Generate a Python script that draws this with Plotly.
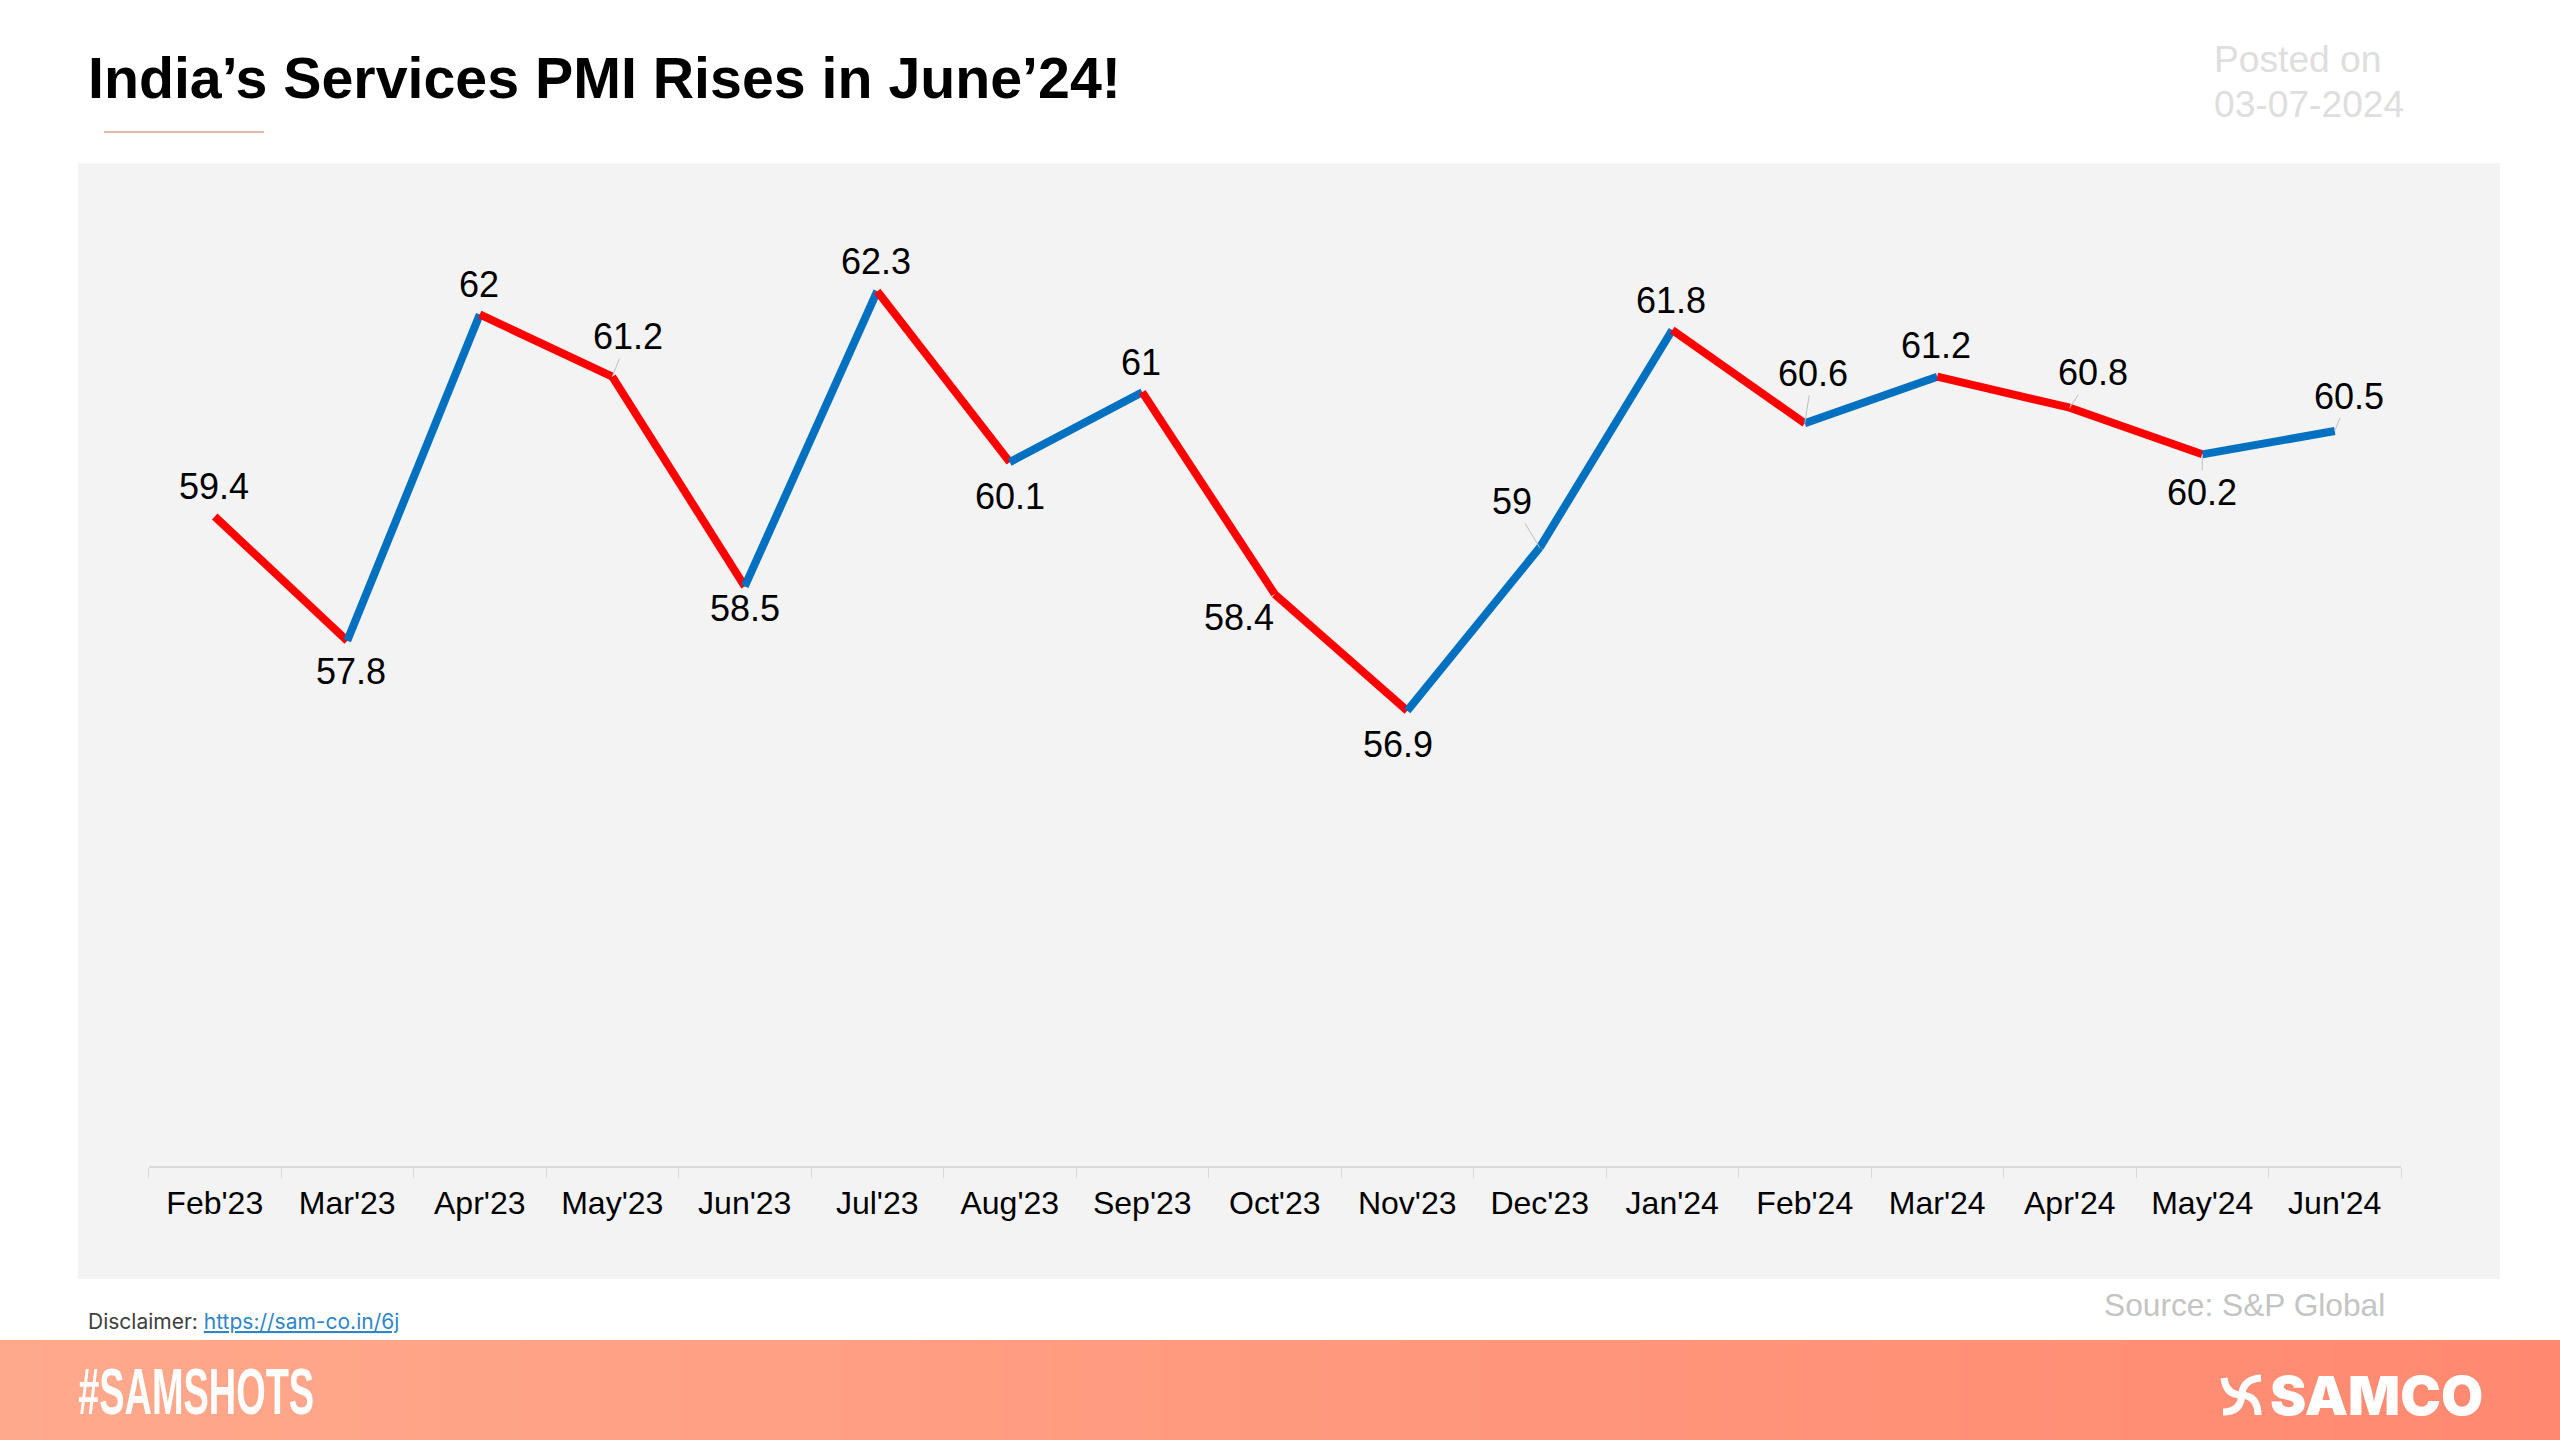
import plotly.graph_objects as go

W, H = 2560, 1440

# Datos
meses = ["Feb'23", "Mar'23", "Apr'23", "May'23", "Jun'23", "Jul'23", "Aug'23", "Sep'23", "Oct'23",
         "Nov'23", "Dec'23", "Jan'24", "Feb'24", "Mar'24", "Apr'24", "May'24", "Jun'24"]
pmi = [59.4, 57.8, 62, 61.2, 58.5, 62.3, 60.1, 61, 58.4, 56.9, 59, 61.8, 60.6, 61.2, 60.8, 60.2, 60.5]

# Desplazamiento de cada etiqueta respecto a su punto (px) y si lleva linea guia
etiqueta_dx = [-1, 4, -1, 16, 0, -1, 0, -1, -36, -9, -28, -1, 8, -1, 23, 0, 14]
etiqueta_dy = [-30, 31, -30, -40, 22, -30, 34, -30, 23, 34, -46, -30, -50, -31, -35, 38, -35]
con_guia = [False, False, False, True, False, False, False, False, False, False,
            True, False, True, False, True, True, True]

ROJO = '#FF0000'
AZUL = '#0070C0'
FUENTE = 'Liberation Sans'


def px_x(v):
    return v / W


def px_y(v):
    return 1 - v / H


fig = go.Figure()

# Banda inferior con degradado
fig.add_trace(go.Heatmap(
    z=[[0, 1]], x=[0, 1], y=[0], xaxis='x2', yaxis='y2', zsmooth='best', showscale=False,
    colorscale=[[0, '#FFA98C'], [1, '#FF8970']], hoverinfo='skip'
))

# Un tramo por mes: rojo si baja, azul si sube
for i in range(len(pmi) - 1):
    color = ROJO if pmi[i + 1] < pmi[i] else AZUL
    fig.add_trace(go.Scatter(
        x=meses[i:i + 2], y=pmi[i:i + 2], mode='lines',
        line=dict(color=color, width=8), showlegend=False, hoverinfo='skip'
    ))

anotaciones = []
for mes, valor, dx, dy, guia in zip(meses, pmi, etiqueta_dx, etiqueta_dy, con_guia):
    anotaciones.append(dict(
        x=mes, y=valor, xref='x', yref='y', text=str(valor), showarrow=True, ax=dx, ay=dy,
        arrowhead=0, arrowwidth=1, arrowcolor='#BFBFBF' if guia else 'rgba(0,0,0,0)',
        font=dict(family=FUENTE, size=36, color='#000000')
    ))


def texto(t, x, y, size, color, bold=False, family=FUENTE, xanchor='left', weight=None):
    fuente = dict(family=family, size=size, color=color)
    if weight:
        fuente['weight'] = weight
    return dict(
        text=f'<b>{t}</b>' if bold else t, x=px_x(x), y=px_y(y), xref='paper', yref='paper',
        xanchor=xanchor, yanchor='middle', showarrow=False, font=fuente
    )


anotaciones += [
    texto("India’s Services PMI Rises in June’24!", 86, 78.5, 57.3, '#000000', bold=True),
    texto('Posted on', 2212, 58.5, 37.2, '#DEDEDE'),
    texto('03-07-2024', 2212, 103.5, 37.2, '#DEDEDE'),
    texto('Source: S&P Global', 2102, 1305, 31.7, '#C4C4C4'),
    texto('Disclaimer: <span style="color:#2E86C8"><u>https://sam-co.in/6j</u></span>',
          85.5, 1321, 21, '#404040', family='Inter'),
    texto('#SAMSHOTS', 196, 1392, 64, '#FFFFFF', bold=True, xanchor='center'),
    texto('SAMCO', 2376.5, 1395, 54, '#FFFFFF', family='Inter', xanchor='center', weight=900),
]

# Logo: cuatro brazos curvos
c = (px_x(2241.7), px_y(1395))
brazos = [((2224, 1378), (2226, 1395)), ((2261, 1378), (2243, 1379)),
          ((2223, 1412), (2241, 1412)), ((2258, 1415), (2258, 1396))]
formas = [
    dict(type='rect', xref='paper', yref='paper', x0=px_x(78), x1=px_x(2500), y0=px_y(1279), y1=px_y(163),
         fillcolor='#F3F3F3', line_width=0, layer='below'),
    dict(type='line', xref='paper', yref='paper', x0=px_x(104), x1=px_x(264), y0=px_y(132), y1=px_y(132),
         line=dict(color='#D8A090', width=1.5)),
]
for (p, q) in brazos:
    formas.append(dict(
        type='path', xref='paper', yref='paper', layer='above',
        path=f'M {px_x(p[0])} {px_y(p[1])} Q {px_x(q[0])} {px_y(q[1])} {c[0]} {c[1]}',
        line=dict(color='#FFFFFF', width=7)
    ))

fig.update_layout(
    width=W, height=H,
    margin=dict(l=0, r=0, t=0, b=0),
    paper_bgcolor='#FFFFFF', plot_bgcolor='rgba(0,0,0,0)',
    showlegend=False,
    annotations=anotaciones,
    shapes=formas,
    xaxis=dict(
        domain=[px_x(148.5), px_x(2401)], type='category', categoryorder='array', categoryarray=meses,
        range=[-0.5, 16.5], tickson='boundaries', ticks='outside', ticklen=10, tickwidth=1,
        tickcolor='#D9D9D9', showline=True, linecolor='#D9D9D9', linewidth=2, showgrid=False,
        zeroline=False, ticklabelstandoff=8, tickfont=dict(family=FUENTE, size=32, color='#000000'),
    ),
    yaxis=dict(
        domain=[px_y(1166), px_y(156)], range=[51.04, 64.04], visible=False, showgrid=False, zeroline=False,
    ),
    xaxis2=dict(domain=[0, 1], range=[0, 1], anchor='y2', visible=False),
    yaxis2=dict(domain=[0, px_y(1340)], range=[-0.5, 0.5], anchor='x2', visible=False),
)

# Sin margen en la pagina y textos del pie ajustados al ancho del original
post = """
document.body.style.margin = '0';
document.body.style.overflow = 'hidden';
var anchos = {'#SAMSHOTS': '236', 'SAMCO': '213'};
document.querySelectorAll('.annotation-text').forEach(function (t) {
    if (anchos[t.textContent]) {
        t.setAttribute('textLength', anchos[t.textContent]);
        t.setAttribute('lengthAdjust', 'spacingAndGlyphs');
    }
});
"""
fig.write_html("out.html", post_script=post, config=dict(displayModeBar=False))
